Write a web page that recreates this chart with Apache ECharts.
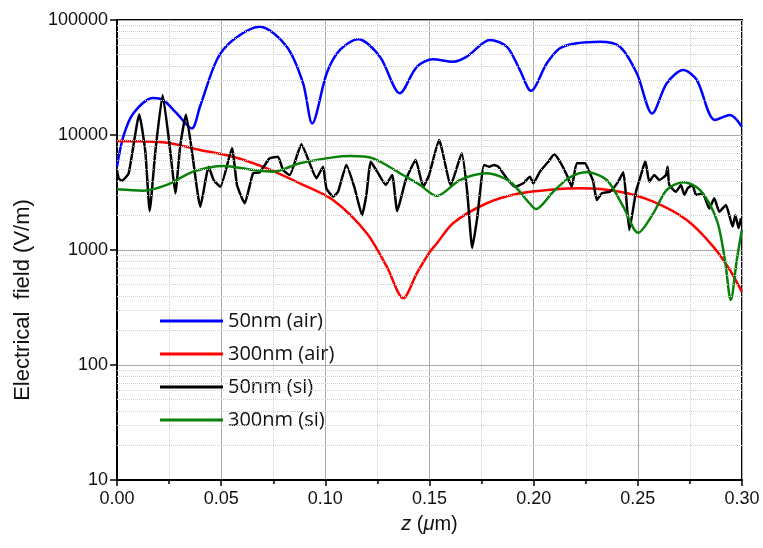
<!DOCTYPE html>
<html><head><meta charset="utf-8">
<script src="https://cdn.jsdelivr.net/npm/echarts@6/dist/echarts.min.js"></script>
<style>html,body{margin:0;padding:0;background:#fff}#c{width:763px;height:548px}</style>
</head><body><div id="c"></div>
<script>
const seriesNames = ['50nm (air)', '300nm (air)', '50nm (si)', '300nm (si)'];
const xTicks = [0, 0.05, 0.10, 0.15, 0.20, 0.25, 0.30];
const yTicks = [10, 100, 1000, 10000, 100000];
const yTitle = 'Electrical  field (V/m)';

const blueAir50 = [
[0.000,5300],[0.003,9660],[0.0078,15400],[0.0173,21000],[0.0221,20200],[0.0287,15400],[0.0359,11400],[0.0398,17600],[0.0479,44900],[0.0557,67000],[0.0686,87500],[0.0815,58600],[0.0893,28300],[0.0937,12600],[0.1007,34600],[0.1070,54900],[0.1157,67900],[0.1262,48000],[0.1358,23100],[0.1439,39200],[0.1517,45500],[0.1613,43400],[0.1679,48000],[0.1790,67000],[0.1871,58600],[0.1934,36700],[0.1987,24200],[0.2063,42000],[0.2126,56800],[0.2207,62700],[0.2318,64700],[0.2414,58600],[0.2495,34400],[0.2569,15400],[0.2639,28200],[0.2718,36700],[0.2783,30100],[0.2870,13500],[0.2942,14900],[0.2999,11800]
];
const redAir300 = [
[0.000,8880],[0.0239,8580],[0.0398,7410],[0.0557,6470],[0.0719,5130],[0.0878,3800],[0.1037,2720],[0.1199,1400],[0.1295,716],[0.1374,380],[0.1439,627],[0.1502,966],[0.1535,1140],[0.1613,1710],[0.1775,2550],[0.1934,3110],[0.2093,3360],[0.2222,3440],[0.2414,3210],[0.2574,2630],[0.2735,1820],[0.2862,1070],[0.2942,670],[0.2999,434]
];
const blackSi50 = [
[0.000,4960],[0.0008,4200],[0.0024,4010],[0.0056,4650],[0.0107,15100],[0.0136,7160],[0.0157,2180],[0.0184,7160],[0.0219,22300],[0.0256,7160],[0.0280,3110],[0.0304,8190],[0.0331,15100],[0.0360,7160],[0.0400,2380],[0.0440,5300],[0.0464,4060],[0.0496,3550],[0.0552,7660],[0.0576,3680],[0.0613,2550],[0.0653,4650],[0.0685,4740],[0.0733,6270],[0.0773,6470],[0.0797,4960],[0.0829,4490],[0.0885,8300],[0.0925,5680],[0.0957,4200],[0.0989,5300],[0.1005,3440],[0.1037,2910],[0.1061,3210],[0.1101,5490],[0.1141,3440],[0.1176,2010],[0.1197,3010],[0.1218,5860],[0.1249,4800],[0.1290,3680],[0.1321,4490],[0.1345,2180],[0.1386,4060],[0.1434,6060],[0.1470,3550],[0.1498,4490],[0.1546,9060],[0.1602,3680],[0.1655,6930],[0.1681,3210],[0.1705,1040],[0.1729,1900],[0.1762,5490],[0.1786,5300],[0.1810,5490],[0.1830,5300],[0.1871,4200],[0.1910,3550],[0.1950,3800],[0.1982,4340],[0.1998,3800],[0.2030,4800],[0.2070,5860],[0.2099,6790],[0.2126,5860],[0.2159,4490],[0.2183,3550],[0.2207,5680],[0.2246,5680],[0.2270,4650],[0.2286,3930],[0.2303,2720],[0.2327,3110],[0.2366,3210],[0.2406,3930],[0.2430,4740],[0.2443,3010],[0.2459,1490],[0.2491,3210],[0.2515,4490],[0.2536,5940],[0.2555,3930],[0.2579,4490],[0.2603,4060],[0.2635,4490],[0.2643,5300],[0.2651,3680],[0.2683,3210],[0.2707,3680],[0.2723,3010],[0.2739,3440],[0.2763,3680],[0.2779,3010],[0.2811,3110],[0.2843,2300],[0.2867,2820],[0.2891,2150],[0.2923,2460],[0.2955,1600],[0.2968,2010],[0.2984,1550],[0.2995,1890]
];
const greenSi300 = [
[0.000,3370],[0.0125,3280],[0.0239,3680],[0.0366,4800],[0.0510,5380],[0.0653,4960],[0.0749,4800],[0.0878,5680],[0.1037,6390],[0.1118,6560],[0.1229,6270],[0.1358,4650],[0.1454,3680],[0.1535,2950],[0.1646,4060],[0.1775,4650],[0.1886,3930],[0.1967,2720],[0.2011,2270],[0.2094,3210],[0.2174,4290],[0.2255,4740],[0.2351,4060],[0.2430,2380],[0.2502,1410],[0.2574,2080],[0.2639,3330],[0.2718,3880],[0.2798,3330],[0.2879,1820],[0.2918,818],[0.2946,367],[0.2975,818],[0.2999,1490]
];

const minorY = [];
for (let d = 0; d < yTicks.length - 1; d++) {
  for (let k = 2; k <= 9; k++) minorY.push({ yAxis: yTicks[d] * k });
}

const chart = echarts.init(document.getElementById('c'), null, { renderer: 'canvas' });
const font = 'Liberation Sans, Arial, sans-serif';
const lineS = (name, data, color, smooth) => ({
  name, type: 'line', data, showSymbol: false, smooth, z: 3,
  lineStyle: { color, width: 2.5 }, itemStyle: { color }
});
chart.setOption({
  animation: false,
  grid: { left: 117, right: 21, top: 20, bottom: 68, show: true, borderColor: '#000', borderWidth: 2, backgroundColor: 'transparent' },
  legend: {
    orient: 'vertical', left: 155, top: 305,
    data: seriesNames, icon: 'rect', itemWidth: 63, itemHeight: 3, itemGap: 11,
    textStyle: { fontFamily: 'Open Sans, sans-serif', fontSize: 20, color: '#111', lineHeight: 22 }
  },
  graphic: [{
    type: 'text', x: 23, y: 300, rotation: Math.PI / 2,
    style: { text: yTitle, fontFamily: font, fontSize: 22, fill: '#111', align: 'center', verticalAlign: 'middle' }
  }],
  xAxis: {
    type: 'value', min: 0, max: 0.3, interval: 0.05,
    name: '{i|z} ({i|μ}m)', nameLocation: 'middle', nameGap: 34,
    nameTextStyle: { fontFamily: font, fontSize: 20, color: '#111', rich: { i: { fontStyle: 'italic', fontFamily: font, fontSize: 20, color: '#111' } } },
    axisLine: { show: true, lineStyle: { color: '#000', width: 2 } },
    axisTick: { show: true, inside: false, length: 6, lineStyle: { color: '#000', width: 1.5 } },
    minorTick: { show: true, splitNumber: 2, length: 4, lineStyle: { color: '#000', width: 1.5 } },
    axisLabel: { fontFamily: font, fontSize: 18, color: '#111', margin: 10, formatter: v => v.toFixed(2) },
    splitLine: { show: true, lineStyle: { color: '#a8a8a8', width: 1 } },
    minorSplitLine: { show: true, lineStyle: { color: '#cfcfcf', width: 1, type: 'dotted' } }
  },
  yAxis: {
    type: 'log', logBase: 10, min: 10, max: 100000,
    axisLine: { show: true, lineStyle: { color: '#000', width: 2 } },
    axisTick: { show: true, inside: false, length: 7, lineStyle: { color: '#000', width: 1.5 } },
    axisLabel: { fontFamily: font, fontSize: 18, color: '#111', margin: 9, formatter: v => String(Math.round(v)) },
    splitLine: { show: true, lineStyle: { color: '#a8a8a8', width: 1 } }
  },
  series: [
    { name: 'minor', type: 'line', data: [], z: 1, silent: true,
      markLine: { silent: true, symbol: ['none', 'none'], label: { show: false },
        lineStyle: { color: '#cfcfcf', width: 1, type: 'dotted' }, data: minorY, animation: false } },
    lineS(seriesNames[0], blueAir50, '#0000ff', 0.3),
    lineS(seriesNames[1], redAir300, '#ff0000', 0.3),
    lineS(seriesNames[2], blackSi50, '#000000', 0.15),
    lineS(seriesNames[3], greenSi300, '#0a820a', 0.3)
  ]
});
</script></body></html>
